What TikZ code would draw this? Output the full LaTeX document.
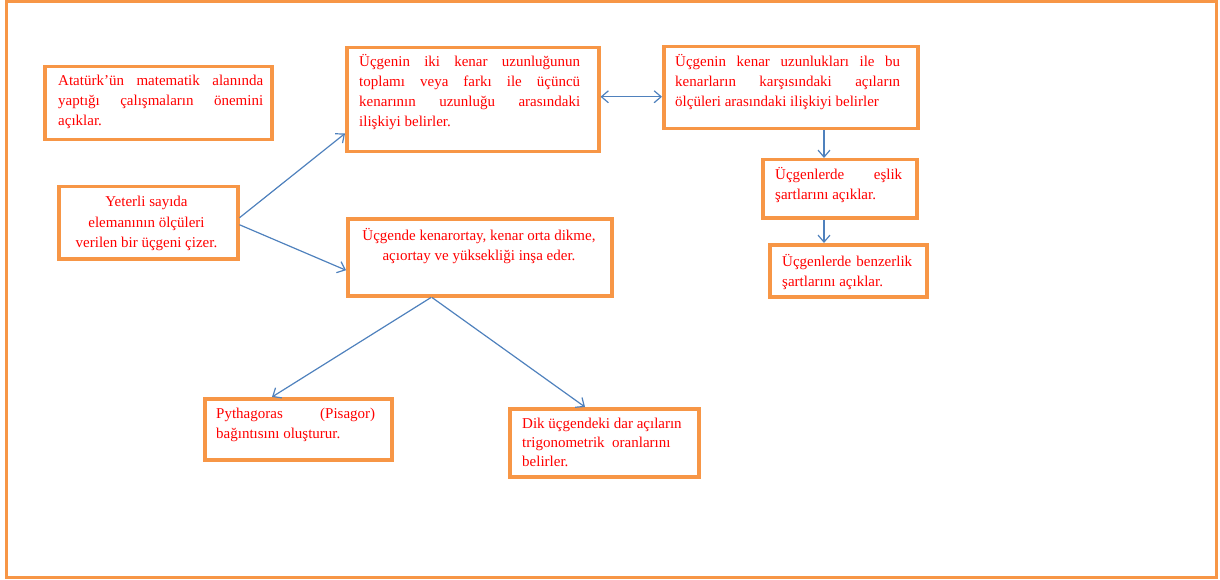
\documentclass[tikz,border=0pt]{standalone}
\usepackage{fontspec}
\setmainfont{Liberation Serif}
\usetikzlibrary{arrows.meta,calc}
\definecolor{frameorange}{HTML}{F79646}
\definecolor{linkblue}{HTML}{4F81BD}
\definecolor{txtred}{HTML}{FF0000}
\hbadness=10000
\begin{document}
\begin{tikzpicture}[x=1pt,y=-1pt,
  box/.style={draw=frameorange,line width=3.5pt,rectangle,inner sep=0pt,anchor=north west},
  txt/.style={inner sep=0pt,text=txtred,font=\fontsize{15}{20}\selectfont},
  jtxt/.style={txt,align=justify,anchor=base west},
  link/.style={draw=linkblue,line width=1.2pt,-{Straight Barb[length=7pt,width=12pt]}},
  dlink/.style={draw=linkblue,line width=1.2pt,{Straight Barb[length=7pt,width=12pt]}-{Straight Barb[length=7pt,width=12pt]}}]
\useasboundingbox (0,0) rectangle (1220,580);
% outer frame
\draw[frameorange,line width=3pt] (6,2) rectangle (1216,577);

% boxes
\node[box,minimum width=227pt,minimum height=73pt] (b1) at (43,65) {};
\node[box,minimum width=179pt,minimum height=72pt] (b2) at (57,185) {};
\node[box,minimum width=252pt,minimum height=104pt] (b3) at (345,46) {};
\node[box,minimum width=254pt,minimum height=82pt] (b4) at (662,45) {};
\node[box,minimum width=264pt,minimum height=77pt] (b5) at (346,217) {};
\node[box,minimum width=154pt,minimum height=58pt] (b6) at (761,158) {};
\node[box,minimum width=157pt,minimum height=52pt] (b7) at (768,243) {};
\node[box,minimum width=187pt,minimum height=61pt] (b8) at (203,397) {};
\node[box,minimum width=189pt,minimum height=68pt] (b9) at (508,407) {};

% texts (justified ones are placed by their first baseline,
% centred / ragged ones by their last baseline)
\node[jtxt,text width=205pt] (t1) at (58,86)
  {Atatürk’ün matematik alanında\linebreak yaptığı çalışmaların önemini\linebreak açıklar.};
\node[txt,align=center,anchor=base] (t2) at (146.5,247)
  {Yeterli sayıda\\elemanının ölçüleri\\verilen bir üçgeni çizer.};
\node[jtxt,text width=221pt] (t3) at (359,67)
  {Üçgenin iki kenar uzunluğunun\linebreak toplamı veya farkı ile üçüncü\linebreak kenarının uzunluğu arasındaki\linebreak ilişkiyi belirler.};
\node[jtxt,text width=225pt] (t4) at (675,67)
  {Üçgenin kenar uzunlukları ile bu\linebreak kenarların karşısındaki açıların\linebreak ölçüleri arasındaki ilişkiyi belirler};
\node[txt,align=center,anchor=base] (t5) at (479,260)
  {Üçgende kenarortay, kenar orta dikme,\\açıortay ve yüksekliği inşa eder.};
\node[jtxt,text width=127pt] (t6) at (775,180)
  {Üçgenlerde eşlik\linebreak şartlarını açıklar.};
\node[jtxt,text width=130pt] (t7) at (782,266)
  {Üçgenlerde benzerlik\linebreak şartlarını açıklar.};
\node[jtxt,text width=159pt] (t8) at (216,418)
  {Pythagoras (Pisagor)\linebreak bağıntısını oluşturur.};
\node[txt,align=left,anchor=base west,font=\fontsize{15}{19}\selectfont] (t9) at (522,466)
  {Dik üçgendeki dar açıların\\trigonometrik\ \ oranlarını\\belirler.};

% connectors
\draw[link] ($(b2.east)+(0,-5)$) -- ($(b3.south west)+(0,-20)$);
\draw[link] ($(b2.east)+(0,2)$) -- ($(b5.west)+(0,13)$);
\draw[dlink] ($(b3.east)+(0,-3)$) -- ($(b4.west)+(0,9)$);
\draw[link] (b4.south -| 824,0) -- (b6.north -| 824,0);
\draw[link] (b6.south -| 824,0) -- (b7.north -| 824,0);
\draw[link] ($(b5.south west)+(85,0)$) -- ($(b8.north west)+(69,0)$);
\draw[link] ($(b5.south west)+(86,0)$) -- ($(b9.north west)+(77,0)$);
\end{tikzpicture}
\end{document}
